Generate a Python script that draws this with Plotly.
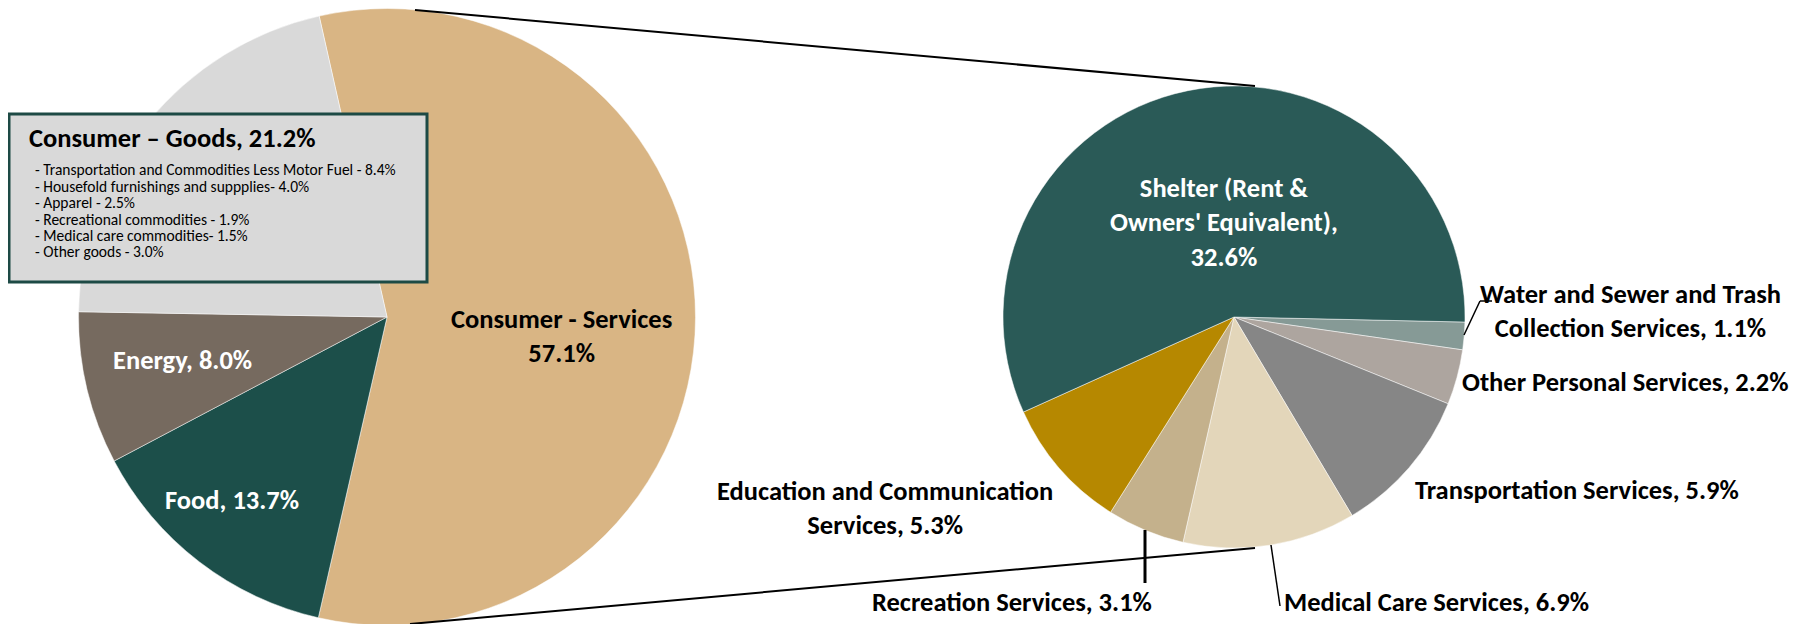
import plotly.graph_objects as go

# CPI basket: overall split, and the services breakdown
outer_labels = ["Consumer - Services<br>", "Food, ", "Energy, ", "Consumer – Goods, "]
outer_values = [57.1, 13.7, 8.0, 21.2]

services_labels = [
    "Water and Sewer and Trash<br>Collection Services, ",
    "Other Personal Services, ",
    "Transportation Services, ",
    "Medical Care Services, ",
    "Recreation Services, ",
    "Education and Communication<br>Services, ",
    "Shelter (Rent &<br>Owners' Equivalent),<br>",
]
services_values = [1.1, 2.2, 5.9, 6.9, 3.1, 5.3, 32.6]

goods_items = [
    "Transportation and Commodities Less Motor Fuel ",
    "Housefold furnishings and suppplies",
    "Apparel ",
    "Recreational commodities ",
    "Medical care commodities",
    "Other goods ",
]
goods_values = [8.4, 4.0, 2.5, 1.9, 1.5, 3.0]

outer_colors = ["#D9B584", "#1C4F4A", "#766A5F", "#D9D9D9"]
services_colors = ["#869A96", "#ADA59F", "#868686", "#E3D6BA", "#C4B18C", "#B68800", "#2A5A57"]

FONT = "Calibri, Carlito, 'Liberation Sans Narrow', 'Open Sans', sans-serif"
W, H = 1820, 624
OFF = 8  # page body margin the browser adds around the plot div


def px(x):
    return (x - OFF) / W


def py(y):
    return 1 - (y - OFF) / H


fig = go.Figure()
fig.add_trace(go.Pie(
    labels=outer_labels, values=outer_values, sort=False, direction="clockwise",
    rotation=-12.7, textinfo="none", hoverinfo="label+value",
    marker=dict(colors=outer_colors, line=dict(color="white", width=0.5)),
    domain=dict(x=[px(78.5), px(695.5)], y=[py(625.5), py(8.5)]),
))
fig.add_trace(go.Pie(
    labels=services_labels, values=services_values, sort=False, direction="clockwise",
    rotation=91.25, textinfo="none", hoverinfo="label+value",
    marker=dict(colors=services_colors, line=dict(color="white", width=0.5)),
    domain=dict(x=[px(1003), px(1465)], y=[py(548), py(86)]),
))

annotations = []

# labels on the left pie (goods goes in the box)
outer_pos = [(561, 336, "black"), (232, 500, "white"), (182, 360, "white")]
for (x, y, c), lab, v in zip(outer_pos, outer_labels, outer_values):
    annotations.append(dict(x=px(x), y=py(y), text=f"<b>{lab}{v:.1f}%</b>",
                            font=dict(size=26.5, color=c, family=FONT)))

# labels on the services pie
serv_pos = [(1630, 311), (1625, 382), (1577, 490), (1436, 602), (1012, 602), (885, 508), (1224, 222)]
for i, ((x, y), lab, v) in enumerate(zip(serv_pos, services_labels, services_values)):
    c = "white" if i == len(services_labels) - 1 else "black"
    annotations.append(dict(x=px(x), y=py(y), text=f"<b>{lab}{v:.1f}%</b>",
                            font=dict(size=26.5, color=c, family=FONT)))

# goods box
annotations.append(dict(x=px(27), y=py(138), xanchor="left",
                        text=f"<b>{outer_labels[3]}{outer_values[3]:.1f}%</b>",
                        font=dict(size=26.5, color="black", family=FONT)))
for k, (name, v) in enumerate(zip(goods_items, goods_values)):
    annotations.append(dict(x=px(33), y=py(170 + 16.4 * k), xanchor="left",
                            text=f"- {name}- {v:.1f}%",
                            font=dict(size=15.5, color="black", family=FONT)))

for a in annotations:
    a.setdefault("xref", "paper")
    a.setdefault("yref", "paper")
    a["showarrow"] = False
    a.setdefault("xanchor", "center")
    a["yanchor"] = "middle"


def seg(x0, y0, x1, y1, w=2):
    return dict(type="line", xref="paper", yref="paper",
                x0=px(x0), y0=py(y0), x1=px(x1), y1=py(y1),
                line=dict(color="black", width=w))


shapes = [
    seg(415, 10, 1255, 86),
    seg(410, 624, 1255, 548),
    seg(1464, 335, 1480, 301, 1.5),
    seg(1480, 301, 1492, 301, 1.5),
    seg(1145, 530, 1145, 583, 3),
    seg(1271, 545, 1280, 606, 1.5),
    dict(type="rect", xref="paper", yref="paper",
         x0=px(9), y0=py(282), x1=px(427), y1=py(114),
         fillcolor="#D9D9D9", line=dict(color="#1D4A45", width=3)),
]

fig.update_layout(
    width=W, height=H, margin=dict(l=0, r=0, t=0, b=0),
    paper_bgcolor="white", plot_bgcolor="white", showlegend=False,
    annotations=annotations, shapes=shapes,
)

fig.write_html("out.html")
